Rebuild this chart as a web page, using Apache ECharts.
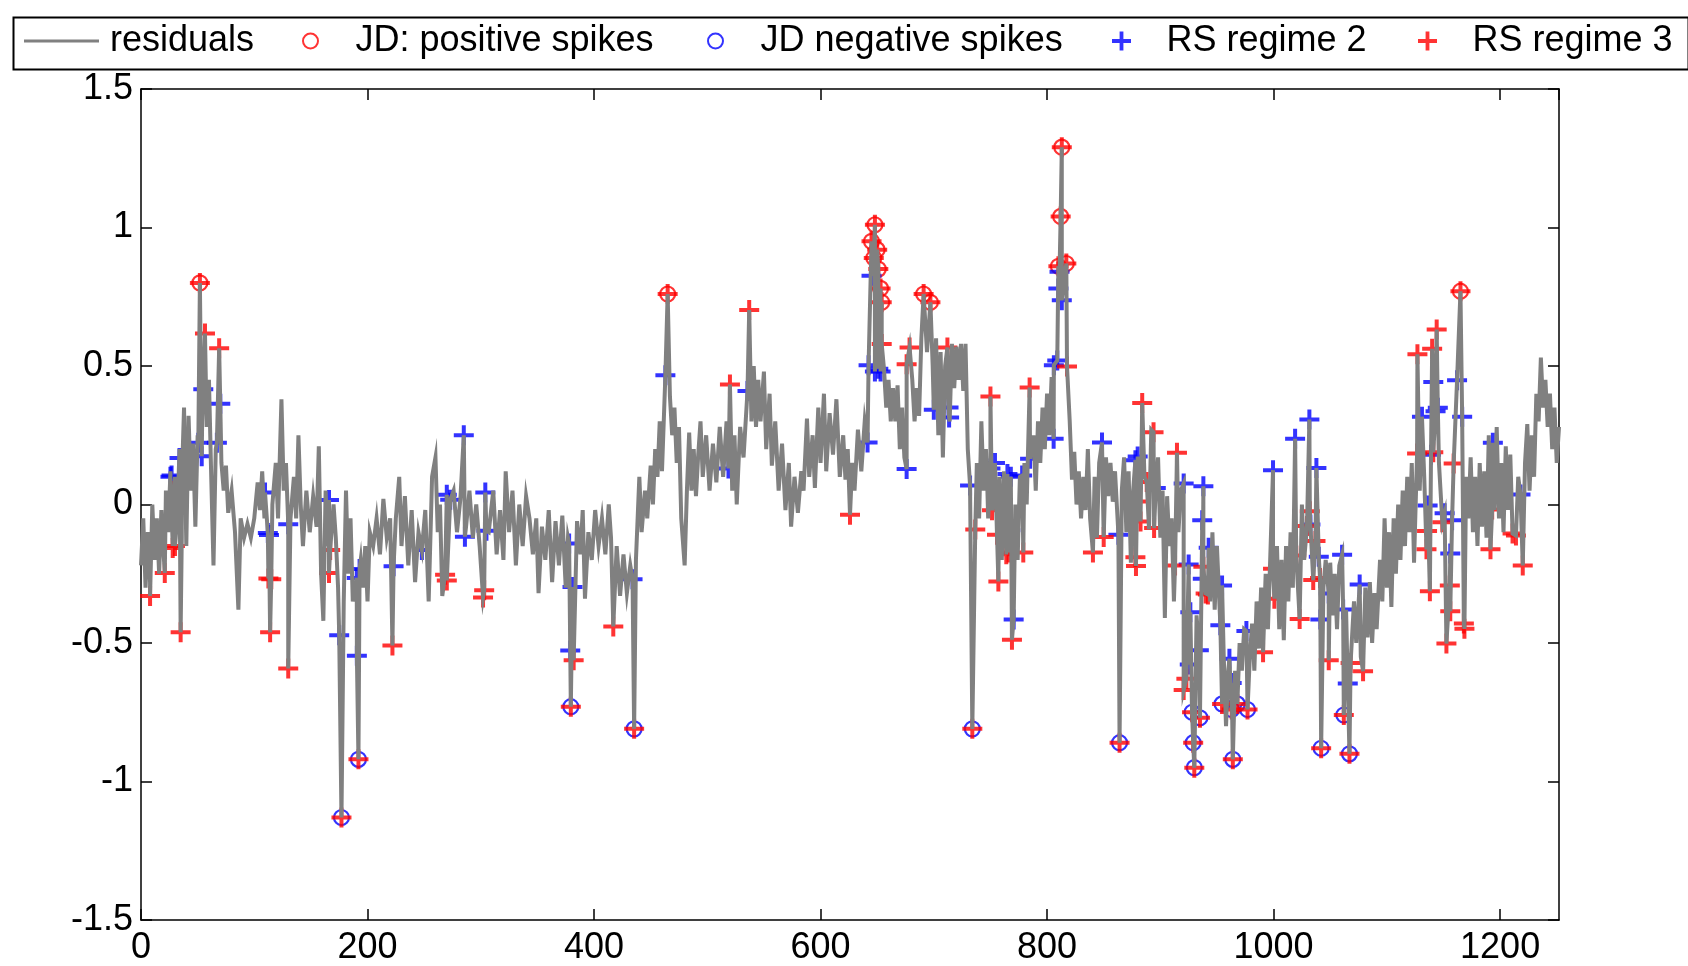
<!DOCTYPE html>
<html><head><meta charset="utf-8">
<script src="https://cdn.jsdelivr.net/npm/echarts@6/dist/echarts.min.js"></script>
<style>html,body{margin:0;padding:0;background:#fff}#c{width:1688px;height:966px}</style>
</head><body><div id="c"></div>
<script>
// ---------- data ----------
const seriesNames = ['residuals', 'JD: positive spikes', 'JD negative spikes', 'RS regime 2', 'RS regime 3'];
const xRange = [0, 1252];
const xStep = 200;
const yRange = [-1.5, 1.5];
const yStep = 0.5;

// residuals (x, value) read along the band of the grey line
const residualsBase = [
[0,-0.22],[2,-0.05],[4,-0.30],[6,-0.10],[8,-0.28],[10,0.00],[12,-0.20],[14,-0.05],[16,-0.25],[18,-0.02],[20,-0.18],[22,0.05],[24,-0.10],[26,0.12],[28,-0.15],[30,0.10],[32,-0.05],[34,0.20],[36,-0.12],[38,0.35],[40,-0.15],[42,0.32],[44,0.05],[46,0.22],[48,-0.08],[50,0.25],[54,0.30],[58,0.28],[60,0.45],[62,0.10],[64,-0.22],[66,0.20],[71,0.15],[73,0.05],[75,0.14],[77,-0.03],[80,0.05],[83,-0.10],[86,-0.38],[88,-0.05],[91,-0.12],[94,-0.07],[97,-0.12],[100,-0.05],[103,0.08],[105,-0.02],[107,0.12],[109,-0.05],[111,0.05],[116,0.00],[119,0.15],[121,-0.05],[124,0.38],[126,0.05],[128,0.15],[132,-0.05],[135,0.10],[137,-0.05],[139,0.25],[141,0.00],[143,-0.15],[146,0.05],[149,-0.10],[152,0.03],[155,-0.08],[157,0.21],[159,-0.25],[161,-0.42],[163,0.05],[165,-0.15],[170,0.00],[172,-0.12],[174,-0.30],[179,-0.35],[181,0.05],[183,-0.25],[185,-0.05],[187,-0.35],[194,-0.20],[196,-0.30],[198,-0.15],[200,-0.35],[202,-0.10],[205,-0.15],[208,-0.05],[211,-0.18],[214,0.02],[217,-0.12],[220,-0.05],[225,-0.05],[228,0.10],[230,-0.15],[233,0.03],[236,-0.22],[239,-0.02],[242,-0.28],[245,-0.10],[251,-0.02],[254,-0.35],[257,0.10],[260,0.17],[262,-0.10],[264,0.00],[266,-0.33],[276,0.05],[279,-0.10],[282,0.02],[287,-0.08],[290,0.05],[293,-0.12],[296,0.00],[299,-0.15],[307,-0.10],
[311,0.05],[314,-0.18],[317,-0.02],[320,-0.20],[322,0.12],[325,-0.10],[328,0.05],[331,-0.22],[334,0.00],[337,-0.15],[340,0.03],[343,-0.05],[346,-0.18],[349,-0.05],[351,-0.32],[354,-0.08],[357,-0.20],[360,-0.02],[363,-0.28],[366,-0.06],[369,-0.22],[372,-0.04],[375,-0.30],[377,-0.12],[385,-0.06],[388,-0.18],[390,-0.02],[392,-0.34],[395,-0.10],[398,-0.20],[401,-0.02],[404,-0.15],[407,-0.05],[410,-0.18],[413,0.00],[415,-0.12],[420,-0.15],[423,-0.33],[426,-0.18],[429,-0.32],[432,-0.22],[437,-0.20],[440,0.10],[442,-0.10],[445,0.05],[447,-0.05],[450,0.14],[452,0.00],[454,0.20],[456,0.10],[458,0.30],[460,0.12],[467,0.39],[469,0.25],[471,0.35],[473,0.15],[475,0.28],[477,-0.05],[480,-0.22],[482,0.05],[484,0.26],[486,0.05],[488,0.20],[490,0.03],[492,0.18],[494,0.30],[496,0.10],[499,0.25],[502,0.05],[505,0.22],[508,0.08],[511,0.28],[514,0.10],[517,0.30],[522,0.05],[524,0.25],[526,0.00],[529,0.28],[532,0.17],[539,0.30],[541,0.50],[543,0.28],[545,0.45],[547,0.30],[550,0.48],[552,0.20],[555,0.40],[557,0.14],[560,0.30],[563,0.05],[566,0.22],[569,-0.02],[572,0.15],[574,-0.08],[577,0.10],[580,-0.03],[583,0.12],[585,0.05],[588,0.31],[590,0.10],[593,0.25],[595,0.06],[598,0.35],[600,0.15],[603,0.40],[605,0.12],[608,0.33],[611,0.18],[614,0.38],[617,0.10],[620,0.25],[622,0.09],[624,0.20],[628,0.15],[630,0.05],[633,0.27],[636,0.12],[639,0.30],
[656,0.49],[658,0.35],[660,0.45],[662,0.30],[664,0.42],[666,0.30],[668,0.43],[670,0.20],[672,0.35],[674,0.17],[681,0.45],[683,0.30],[685,0.42],[687,0.32],[689,0.60],[694,0.55],[699,0.50],[702,0.60],[704,0.25],[706,0.55],[708,0.17],[710,0.50],[714,0.30],[716,0.58],[718,0.42],[720,0.57],[722,0.45],[724,0.58],[726,0.41],[728,0.58],[730,0.20],[738,0.15],[740,-0.05],[742,0.30],[744,0.05],[746,0.20],[748,-0.05],[752,0.00],[756,-0.11],[758,0.10],[760,-0.20],[762,0.12],[772,0.00],[774,-0.20],[776,0.10],[780,0.15],[782,0.00],[788,0.25],[790,0.05],[792,0.30],[794,0.15],[796,0.35],[798,0.20],[800,0.40],[802,0.25],[804,0.46],
[820,0.30],[822,0.09],[824,0.19],[826,0.00],[828,0.12],[830,-0.05],[832,0.10],[834,-0.02],[836,0.20],[838,-0.05],[842,0.10],[844,-0.12],[846,0.15],[852,0.17],[854,0.03],[856,0.15],[858,0.01],[860,0.12],[866,0.05],[868,0.17],[870,-0.10],[872,0.12],[874,-0.21],[876,0.05],[886,0.10],[890,-0.09],[892,0.27],[898,0.17],[900,-0.12],[902,0.05],[904,-0.41],[906,0.03],[908,-0.15],[910,-0.05],[912,-0.35],[916,-0.10],[918,0.05],[932,-0.40],[944,-0.35],[946,-0.10],[948,-0.38],[950,-0.15],[956,-0.55],[958,-0.80],[960,-0.60],[966,-0.60],[970,-0.50],[972,-0.60],[974,-0.45],[979,-0.55],[981,-0.43],[983,-0.60],[985,-0.35],[987,-0.52],[989,-0.30],[993,-0.25],[995,-0.45],[997,-0.20],
[1003,-0.15],[1005,-0.45],[1007,-0.20],[1009,-0.49],[1011,-0.15],[1013,-0.35],[1015,-0.10],[1017,-0.30],[1025,0.00],[1027,-0.20],[1044,-0.30],[1046,-0.20],[1050,-0.21],[1052,-0.40],[1054,-0.25],[1056,-0.45],[1058,-0.22],[1064,-0.38],[1069,-0.57],[1071,-0.35],[1073,-0.50],[1077,-0.55],[1081,-0.30],[1083,-0.48],[1085,-0.28],[1087,-0.50],[1089,-0.32],[1091,-0.45],[1094,-0.20],[1096,-0.35],[1098,-0.05],[1100,-0.30],[1102,-0.10],[1104,-0.37],[1106,-0.05],[1108,-0.25],[1110,0.00],[1112,-0.20],[1114,0.05],[1116,-0.15],[1118,0.10],[1120,-0.10],[1122,0.15],[1124,-0.21],[1129,0.05],[1133,0.10],[1146,0.15],[1170,0.10],[1172,-0.05],[1174,0.17],[1176,-0.10],[1178,0.10],[1180,-0.15],[1182,0.15],[1184,-0.08],[1186,0.12],[1188,-0.12],[1190,0.25],[1195,-0.02],[1197,0.28],[1199,-0.05],[1201,0.15],[1203,-0.10],[1205,0.21],[1207,-0.02],[1209,0.18],[1216,0.10],[1222,0.15],[1224,0.29],[1226,0.05],[1228,0.25],[1230,0.10],[1232,0.40],[1234,0.30],[1236,0.53],[1238,0.35],[1240,0.45],[1242,0.28],[1244,0.40],[1246,0.20],[1248,0.35],[1250,0.15],[1252,0.28]
];

const jdPositive = [[52,0.80],[465,0.76],[645,0.95],[648,1.01],[650,0.92],[647,0.89],[651,0.85],[653,0.78],[654,0.73],[691,0.76],[697,0.73],[810,0.86],[812,1.04],[813,1.29],[817,0.87],[1165,0.77]];

const jdNegative = [[177,-1.13],[192,-0.92],[379.5,-0.73],[435.4,-0.81],[734,-0.81],[864,-0.86],[928,-0.75],[929,-0.86],[930,-0.95],[935,-0.77],[954.5,-0.72],[963,-0.74],[964,-0.92],[968,-0.72],[977,-0.74],[1042,-0.88],[1062,-0.76],[1067,-0.90]];

const rsRegime2 = [[26,0.10],[27,0.105],[34,0.168],[50.6,0.223],[53.6,0.174],[55,0.416],[67,0.223],[70,0.364],[109.5,0.043],[112,-0.103],[113,-0.11],[130,-0.071],[166,0.016],[175,-0.472],[190.5,-0.265],[190.6,-0.546],[193,-0.233],[223,-0.223],[248,-0.164],[270,0.035],[273,0.017],[285,0.25],[286,-0.116],[304,0.043],[305,-0.095],[378,-0.141],[379,-0.527],[381,-0.298],[434,-0.27],[463,0.467],[518.7,0.13],[535.5,0.41],[641.5,0.224],[642.4,0.503],[645,0.826],[648,0.48],[651,0.49],[653,0.48],[676,0.128],[700,0.342],[713,0.35],[713.5,0.314],[732,0.069],[747,0.10],[750,0.13],[754,0.15],[765,0.11],[767.5,-0.093],[768,0.10],[770.5,-0.415],[778,0.105],[785,0.165],[805.8,0.237],[806,0.503],[809,0.52],[810,0.78],[811,0.84],[813,0.737],[848.5,0.224],[863,-0.109],[878,0.16],[880,0.173],[896,0.06],[920.6,0.076],[925,-0.217],[926,-0.578],[926.5,-0.389],[934,-0.526],[937,-0.057],[937.5,-0.268],[938,0.066],[942.7,-0.156],[953,-0.436],[954.5,-0.292],[961,-0.557],[963,-0.644],[976,-0.457],[999.5,0.124],[1019,0.237],[1031.6,0.307],[1032.5,-0.072],[1037.8,0.132],[1039.9,-0.189],[1041.3,-0.415],[1048.7,-0.321],[1060.5,-0.181],[1061.4,-0.379],[1065.5,-0.646],[1076,-0.289],[1131,0.317],[1136,-0.004],[1139,0.18],[1141,0.442],[1143,0.337],[1145,0.349],[1151,-0.032],[1156,-0.177],[1157.6,-0.057],[1162,0.449],[1166.5,0.317],[1193.6,0.223],[1218,0.036]];

// regime-3 points that are not jump (JD) points; the JD points are also regime 3
const rsRegime3 = [[8,-0.33],[21,-0.247],[28,-0.157],[30,-0.15],[35,-0.461],[36,0.078],[56.5,0.617],[69,0.564],[112.5,-0.267],[114,-0.461],[115,-0.27],[130,-0.592],[166,-0.247],[167,-0.164],[222,-0.509],[268.5,-0.254],[270,-0.274],[302,-0.336],[303,-0.31],[382,-0.562],[417,-0.44],[520,0.433],[537,0.702],[626,-0.037],[654,0.579],[676,0.506],[678.6,0.567],[712,0.567],[736.6,-0.09],[750,0.39],[751.4,-0.021],[755.8,-0.109],[757,-0.278],[764,-0.18],[766,-0.173],[769,-0.488],[779,-0.173],[784.6,0.422],[817.6,0.498],[840.5,-0.173],[850,-0.117],[878,-0.19],[878.5,-0.222],[882,0.011],[882.5,-0.061],[884,0.366],[888,0.081],[894,0.261],[894.5,-0.085],[913,-0.22],[914.7,0.187],[920.6,-0.67],[923,-0.629],[938,-0.225],[940,-0.321],[942,-0.325],[990.7,-0.533],[999.5,-0.232],[1000.7,-0.34],[1020,-0.184],[1023,-0.413],[1029.5,-0.078],[1032,-0.024],[1035,-0.273],[1037,-0.132],[1041,-0.265],[1048.7,-0.562],[1068,-0.572],[1079,-0.602],[1126.7,0.184],[1127,0.542],[1135,-0.162],[1135.5,-0.096],[1138,-0.313],[1140,0.562],[1141,0.189],[1144,0.632],[1149,-0.064],[1152.6,-0.502],[1155.6,-0.292],[1156,-0.385],[1159,0.148],[1168,-0.43],[1168.5,-0.449],[1191.5,-0.162],[1193,-0.018],[1211,-0.105],[1214,-0.112],[1220,-0.22]];

// ---------- build ----------
const residualLine = residualsBase.concat(jdPositive, jdNegative, rsRegime2, rsRegime3)
  .slice().sort((a, b) => a[0] - b[0]);
const regime3All = rsRegime3.concat(jdPositive, jdNegative);

const FONT = "'Liberation Sans', Arial, Helvetica, sans-serif";
const PLUS = 'path://M8,0H12V8H20V12H12V20H8V12H0V8H8Z';
const GRAY = '#808080', RED = '#ff0000', BLUE = '#0000ff';

const chart = echarts.init(document.getElementById('c'), null, {renderer: 'canvas'});

const axisLabelStyle = {color: '#000', fontSize: 36, fontFamily: FONT};
const tick = {show: true, inside: true, length: 11, lineStyle: {color: '#000', width: 1.5}};
const line = {show: true, onZero: false, lineStyle: {color: '#000', width: 1.5}};
const legendText = {color: '#000', fontSize: 36, fontFamily: FONT, lineHeight: 36};

function legendItem(data, left, extra) {
  return Object.assign({
    data: [data], left: left, top: 23, padding: 0,
    itemWidth: 80, itemHeight: 15,
    textStyle: legendText,
    selectedMode: false
  }, extra || {});
}

chart.setOption({
  animation: false,
  backgroundColor: '#fff',
  grid: {left: 141, right: 129, top: 89, bottom: 46, containLabel: false},
  legend: [
    legendItem({name: seriesNames[0], icon: 'rect'}, 24, {itemWidth: 75, itemHeight: 3,
      itemStyle: {color: GRAY, borderWidth: 0},
      textStyle: Object.assign({}, legendText, {padding: [0, 0, 0, 6]})}),
    legendItem(seriesNames[1], 302),
    legendItem(seriesNames[2], 707),
    legendItem(seriesNames[3], 1112, {itemHeight: 19}),
    legendItem(seriesNames[4], 1418, {itemHeight: 19})
  ],
  graphic: [{
    type: 'rect', left: 11, top: 15, z: 100, silent: true,
    shape: {width: 1675, height: 52},
    style: {fill: 'none', stroke: '#000', lineWidth: 2}
  }],
  xAxis: [{
    type: 'value', min: xRange[0], max: xRange[1], interval: xStep, position: 'bottom',
    axisLine: line, axisTick: tick, splitLine: {show: false},
    axisLabel: Object.assign({margin: 10, showMaxLabel: false, formatter: v => String(v)}, axisLabelStyle)
  }, {
    type: 'value', min: xRange[0], max: xRange[1], interval: xStep, position: 'top',
    axisLine: line, axisTick: tick, splitLine: {show: false}, axisLabel: {show: false}
  }],
  yAxis: [{
    type: 'value', min: yRange[0], max: yRange[1], interval: yStep, position: 'left',
    axisLine: line, axisTick: tick, splitLine: {show: false},
    axisLabel: Object.assign({margin: 8}, axisLabelStyle)
  }, {
    type: 'value', min: yRange[0], max: yRange[1], interval: yStep, position: 'right',
    axisLine: line, axisTick: tick, splitLine: {show: false}, axisLabel: {show: false}
  }],
  series: [{
    name: seriesNames[0], type: 'line', data: residualLine, symbol: 'none',
    lineStyle: {color: GRAY, width: 4, join: 'miter'}, itemStyle: {color: GRAY}, clip: true
  }, {
    name: seriesNames[1], type: 'scatter', data: jdPositive, symbol: 'circle', symbolSize: 15,
    itemStyle: {color: 'rgba(0,0,0,0)', borderColor: RED, borderWidth: 2.2}
  }, {
    name: seriesNames[2], type: 'scatter', data: jdNegative, symbol: 'circle', symbolSize: 15,
    itemStyle: {color: 'rgba(0,0,0,0)', borderColor: BLUE, borderWidth: 2.2}
  }, {
    name: seriesNames[3], type: 'scatter', data: rsRegime2, symbol: PLUS, symbolSize: 20,
    itemStyle: {color: BLUE}
  }, {
    name: seriesNames[4], type: 'scatter', data: regime3All, symbol: PLUS, symbolSize: 20,
    itemStyle: {color: RED}
  }]
});
</script>
</body></html>
